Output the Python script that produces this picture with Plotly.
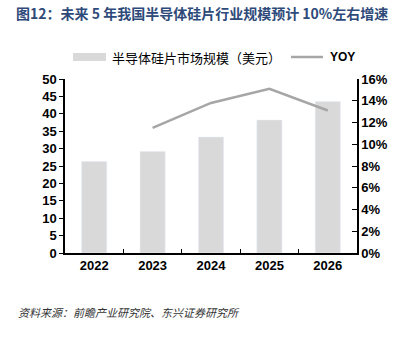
import plotly.graph_objects as go

years = ["2022", "2023", "2024", "2025", "2026"]
market = [26.3, 29.2, 33.3, 38.2, 43.5]
yoy_years = ["2023", "2024", "2025", "2026"]
yoy = [11.5, 13.8, 15.1, 13.1]

title = "图12：未来 5 年我国半导体硅片行业规模预计 10%左右增速"
bar_name = "半导体硅片市场规模（美元）"
line_name = "YOY"
source = "资料来源：前瞻产业研究院、东兴证券研究所"

cjk = "Noto Sans CJK SC"
tf = dict(family="Liberation Sans, Arial", size=13, color="black", weight="bold")

fig = go.Figure()
fig.add_trace(go.Bar(x=years, y=market, name=bar_name, marker_color="#D9D9D9",
                     width=0.43, showlegend=False))
fig.add_trace(go.Scatter(x=yoy_years, y=yoy, name=line_name, yaxis="y2", mode="lines",
                         line=dict(color="#A6A6A6", width=2.5), showlegend=False))

fig.update_layout(
    width=408, height=343,
    margin=dict(l=65, r=51, t=79, b=90),
    plot_bgcolor="white", paper_bgcolor="white",
    xaxis=dict(type="category", showline=True, linecolor="black", linewidth=1.5,
               ticks="inside", tickson="boundaries", ticklen=4, tickcolor="black",
               tickfont=tf, showgrid=False, range=[-0.5, 4.5]),
    yaxis=dict(range=[0, 50], dtick=5, showline=True, linecolor="black", linewidth=1.5,
               ticks="outside", ticklen=4, tickcolor="black", showgrid=False, zeroline=False,
               tickfont=tf),
    yaxis2=dict(range=[0, 16], dtick=2, overlaying="y", side="right", showline=True,
                linecolor="black", linewidth=1.5, ticks="inside", ticklen=5, tickcolor="black",
                ticksuffix="%", showgrid=False, zeroline=False, tickfont=tf),
    showlegend=False,
)

def px(x):
    return (x - 65) / 292

def py(y):
    return (253 - y) / 174

# Title
fig.add_annotation(text="<b>" + title + "</b>", xref="paper", yref="paper",
                   x=px(14), y=py(13), xanchor="left", yanchor="middle",
                   showarrow=False, font=dict(family=cjk, size=14, color="#2E4A7A"))
# Legend (manual)
fig.add_shape(type="rect", xref="paper", yref="paper",
              x0=px(73), x1=px(106), y0=py(61), y1=py(53),
              fillcolor="#D9D9D9", line=dict(width=0))
fig.add_annotation(text=bar_name, xref="paper", yref="paper", x=px(110), y=py(57),
                   xanchor="left", yanchor="middle", showarrow=False,
                   font=dict(family=cjk, size=13, color="black"))
fig.add_shape(type="line", xref="paper", yref="paper",
              x0=px(291), x1=px(323), y0=py(57), y1=py(57),
              line=dict(color="#A6A6A6", width=2.5))
fig.add_annotation(text="<b>" + line_name + "</b>", xref="paper", yref="paper", x=px(328), y=py(57),
                   xanchor="left", yanchor="middle", showarrow=False,
                   font=dict(family="Liberation Sans, Arial", size=12, color="black"))
# Source
fig.add_annotation(text="<i>" + source + "</i>", xref="paper", yref="paper",
                   x=px(16), y=py(312), xanchor="left", yanchor="middle",
                   showarrow=False, font=dict(family=cjk, size=11, color="#333333"))

fig.write_html("out.html")
